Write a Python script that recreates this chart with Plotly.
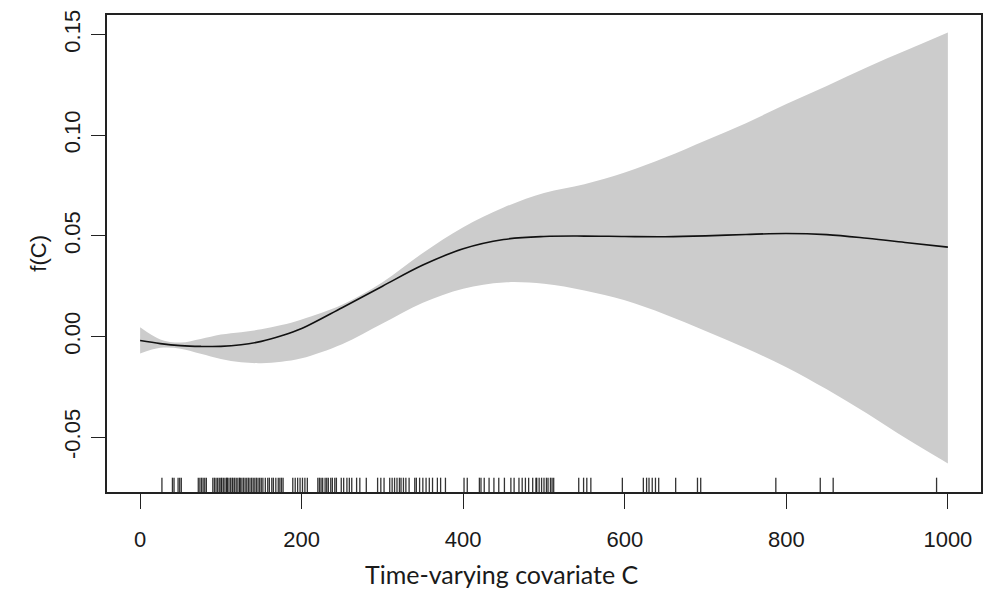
import plotly.graph_objects as go

# Smooth term estimate f(C) with pointwise confidence band
c_grid = [0, 25, 50, 75, 100, 125, 150, 175, 200, 250, 300, 350, 400, 450, 500,
          550, 600, 650, 700, 750, 800, 850, 900, 950, 1000]
f_hat = [-0.0020, -0.0035, -0.0045, -0.0049, -0.0049, -0.0041, -0.0024, 0.0004,
         0.0040, 0.0143, 0.0250, 0.0355, 0.0436, 0.0482, 0.0497, 0.0499, 0.0497,
         0.0496, 0.0500, 0.0507, 0.0512, 0.0506, 0.0488, 0.0466, 0.0444]
f_upper = [0.0046, -0.0014, -0.0030, -0.0012, 0.0010, 0.0022, 0.0036, 0.0057,
           0.0085, 0.0158, 0.0270, 0.0415, 0.0543, 0.0641, 0.0713, 0.0757, 0.0815,
           0.0889, 0.0974, 0.1060, 0.1155, 0.1245, 0.1338, 0.1424, 0.1510]
f_lower = [-0.0084, -0.0056, -0.0060, -0.0086, -0.0112, -0.0128, -0.0132, -0.0125,
           -0.0108, -0.0038, 0.0065, 0.0168, 0.0238, 0.0269, 0.0262, 0.0229, 0.0180,
           0.0110, 0.0028, -0.0058, -0.0152, -0.0262, -0.0382, -0.0510, -0.0630]

# Observed covariate values shown as a rug
rug_c = [
    27, 40, 42, 47, 49, 51,
    72, 74, 76, 78, 80, 82,
    90, 92, 94, 96, 98, 100, 101, 103, 105, 107, 108, 110, 112, 114, 115, 117,
    119, 121, 123, 124, 126, 128, 130, 132, 134, 136, 138, 140, 142, 144, 146,
    148, 150, 152, 155, 158,
    160, 163, 165, 168, 171, 173, 175, 177,
    189, 192, 195, 198, 201, 204, 207,
    220, 222, 224, 226, 229, 231, 233, 236, 238, 241, 243,
    249, 252, 256, 259, 262,
    268, 272, 280,
    294, 298, 302,
    309, 312, 315, 318, 321,
    323, 326, 329, 333, 340, 342, 346, 350, 354, 358, 362, 368, 372, 378,
    401, 405,
    420, 422, 426, 432, 438, 444, 451, 459, 463, 469, 473, 477, 481, 486, 490,
    491, 494, 497, 500, 503, 505, 508, 510, 512,
    543, 549, 553, 558,
    597,
    623, 627, 630, 634, 638, 642,
    663, 690, 694,
    787, 842, 858, 986,
]

x_ticks = [0, 200, 400, 600, 800, 1000]
x_tick_text = ["0", "200", "400", "600", "800", "1000"]
y_ticks = [-0.05, 0.00, 0.05, 0.10, 0.15]
y_tick_text = ["-0.05", "0.00", "0.05", "0.10", "0.15"]

x_range = [-41, 1041]
y_range = [-0.0772, 0.1597]
rug_len = 0.03 * (y_range[1] - y_range[0])

fig = go.Figure()

spline = dict(shape="spline", smoothing=1.0)
fig.add_trace(go.Scatter(
    x=c_grid, y=f_lower, mode="lines", line=dict(width=0, **spline),
    hoverinfo="skip", showlegend=False,
))
fig.add_trace(go.Scatter(
    x=c_grid, y=f_upper, mode="lines", line=dict(width=0, **spline),
    fill="tonexty", fillcolor="#cccccc", hoverinfo="skip", showlegend=False,
))
fig.add_trace(go.Scatter(
    x=c_grid, y=f_hat, mode="lines",
    line=dict(color="#111111", width=1.6, **spline),
    showlegend=False,
))

# rug segments along the bottom of the panel
rx, ry = [], []
for c in rug_c:
    rx += [c, c, None]
    ry += [y_range[0], y_range[0] + rug_len, None]
fig.add_trace(go.Scatter(
    x=rx, y=ry, mode="lines", line=dict(color="rgba(0,0,0,0.8)", width=1.3),
    hoverinfo="skip", showlegend=False,
))

# empty trace so the label-only axes get drawn
fig.add_trace(go.Scatter(x=[None], y=[None], xaxis="x2", yaxis="y2",
                         hoverinfo="skip", showlegend=False))

tick_font = dict(family="Liberation Sans, Arial, Helvetica, sans-serif", size=22, color="#1a1a1a")
frame = dict(showline=True, linecolor="#222222", linewidth=1.6, mirror=True,
             showgrid=False, zeroline=False)

fig.update_layout(
    width=993, height=592,
    margin=dict(l=107, r=10, t=12, b=100),
    paper_bgcolor="white", plot_bgcolor="white",
    # tick marks and frame
    xaxis=dict(
        range=x_range, tickmode="array", tickvals=x_ticks,
        ticks="outside", ticklen=15, tickwidth=1.4, tickcolor="#222222",
        showticklabels=False, **frame,
    ),
    yaxis=dict(
        range=y_range, tickmode="array", tickvals=y_ticks,
        ticks="outside", ticklen=14, tickwidth=1.4, tickcolor="#222222",
        showticklabels=False, **frame,
    ),
    # tick labels, set further out from the frame
    xaxis2=dict(
        range=x_range, overlaying="x", anchor="y2", side="bottom",
        tickmode="array", tickvals=x_ticks, ticktext=x_tick_text, ticks="",
        showline=False, showgrid=False, zeroline=False,
        tickfont=tick_font, ticklabelstandoff=32,
    ),
    yaxis2=dict(
        range=y_range, overlaying="y", anchor="x2", side="left",
        tickmode="array", tickvals=y_ticks, ticktext=y_tick_text, ticks="",
        tickangle=-90, showline=False, showgrid=False, zeroline=False,
        tickfont=tick_font, ticklabelstandoff=22,
    ),
    annotations=[
        dict(text="Time-varying covariate C", xref="paper", yref="paper",
             x=(503 - 107) / 876, y=(492 - 575) / 480, xanchor="center", yanchor="middle",
             showarrow=False,
             font=dict(family="Lato, Open Sans, sans-serif", size=25, color="#1a1a1a")),
        dict(text="f(C)", xref="paper", yref="paper",
             x=(38 - 107) / 876, y=0.5, xanchor="center", yanchor="middle",
             textangle=-90, showarrow=False,
             font=dict(family="Liberation Sans, Arial, Helvetica, sans-serif", size=22, color="#1a1a1a")),
    ],
)

fig.write_html("out.html")
